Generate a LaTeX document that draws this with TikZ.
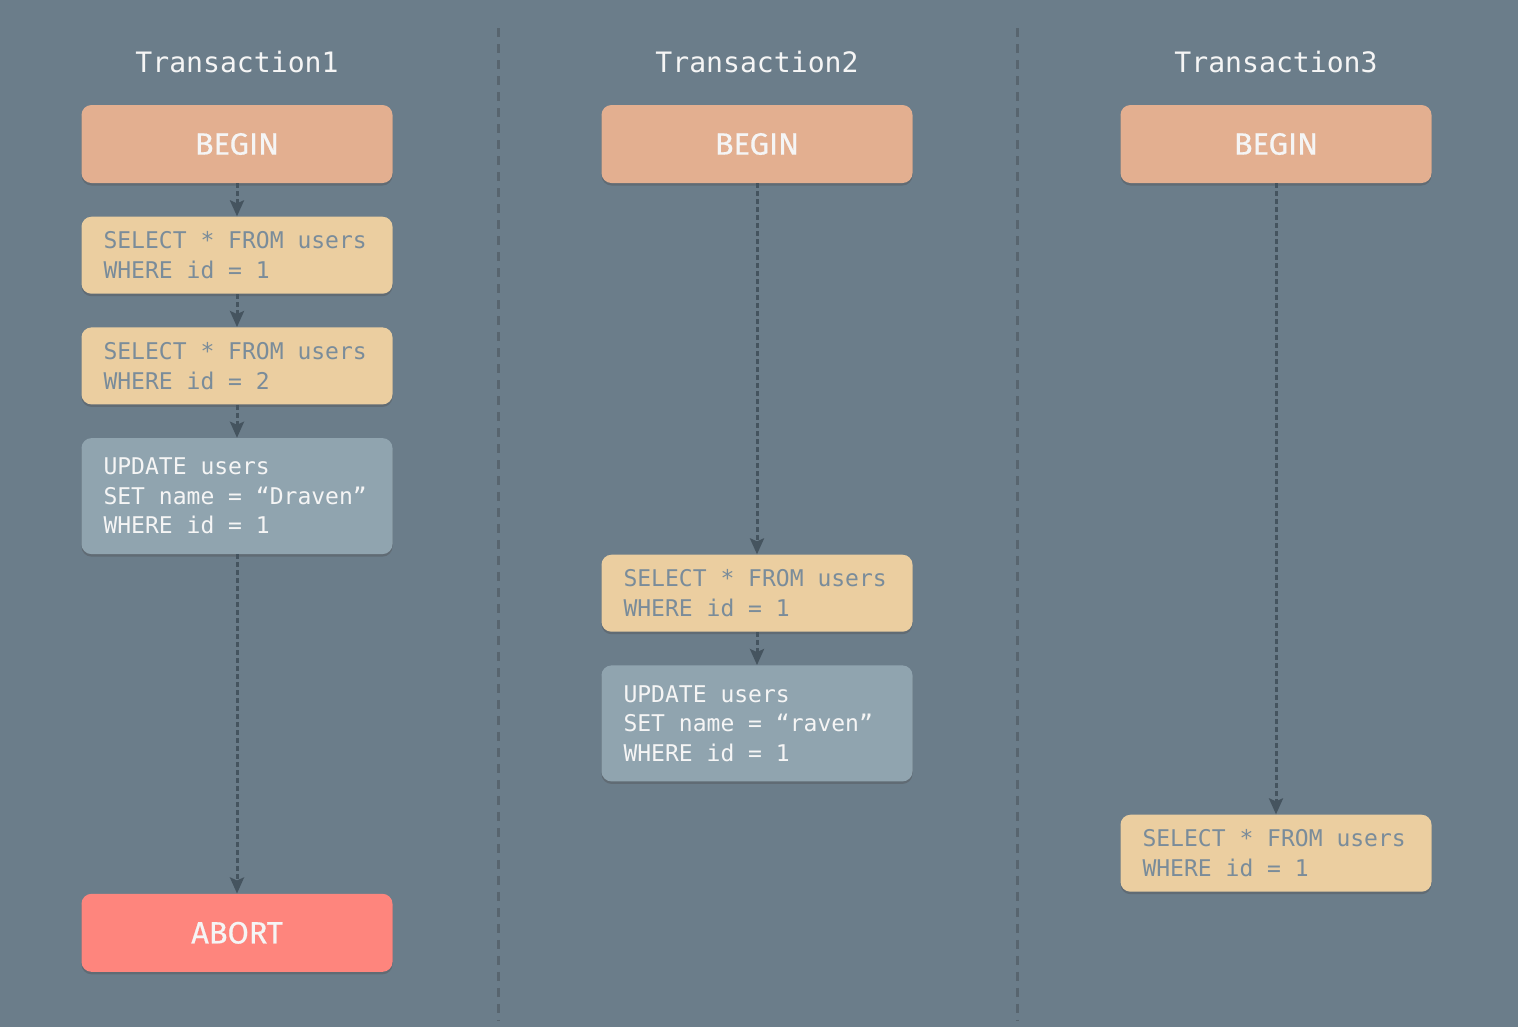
\documentclass[tikz,border=0pt]{standalone}
\usepackage{fontspec}
\setmainfont{Fira Sans}
\newfontfamily\codefont{DejaVu Sans Mono}
\newfontfamily\keyfont[FakeBold=0.6]{Fira Sans}
\usetikzlibrary{arrows.meta, positioning, shadows}
\definecolor{Slate}{HTML}{6B7D8A}
\definecolor{SlateDark}{HTML}{45545F}
\definecolor{Peach}{HTML}{E3AF90}
\definecolor{Sand}{HTML}{EBCEA0}
\definecolor{SandText}{HTML}{7A8C9A}
\definecolor{Steel}{HTML}{90A4AF}
\definecolor{Coral}{HTML}{FE857D}
\definecolor{Snow}{HTML}{F5F5F5}

\begin{document}
\begin{tikzpicture}[
    % Global Styles
    node distance=0.66cm,
    % Box base
    stmt/.style={
        rectangle,
        rounded corners=0.2cm,
        draw=none,
        drop shadow={shadow xshift=0pt, shadow yshift=-0.05cm, opacity=0.35, fill=black!70},
        text width=5.34cm,
        inner xsep=0.44cm,
        inner ysep=0.1cm
    },
    % Styles for different statement types
    beginbox/.style={
        stmt,
        fill=Peach,
        minimum height=1.56cm,
        align=center,
        text=Snow,
        font=\keyfont\fontsize{17.5}{20}\selectfont
    },
    abortbox/.style={
        beginbox,
        fill=Coral
    },
    selectbox/.style={
        stmt,
        fill=Sand,
        minimum height=1.54cm,
        align=flush left,
        text=SandText,
        font=\codefont\fontsize{13.1}{17}\selectfont
    },
    updatebox/.style={
        stmt,
        fill=Steel,
        minimum height=2.32cm,
        align=flush left,
        text=Snow,
        font=\codefont\fontsize{13.1}{16.8}\selectfont
    },
    title/.style={
        text=Snow,
        font=\codefont\fontsize{16}{19}\selectfont
    },
    % Connector line style
    flow/.style={
        draw=SlateDark,
        line width=0.06cm,
        dash pattern=on 0.1cm off 0.06cm,
        -{Stealth[length=0.32cm,width=0.28cm,inset=0.06cm]}
    },
    lane/.style={
        draw=SlateDark!90,
        line width=0.06cm,
        dash pattern=on 0.18cm off 0.14cm
    }
]

    % --- Background ---
    \fill[Slate] (0,0) rectangle (30.36,-20.54);
    \useasboundingbox (0,0) rectangle (30.36,-20.54);

    % --- Lanes ---
    \coordinate (lane1top) at (9.96,-0.56);
    \coordinate (lane1bot) at (9.96,-20.40);
    \coordinate (lane2top) at (20.34,-0.56);
    \coordinate (lane2bot) at (20.34,-20.40);
    \draw[lane] (lane1top) -- (lane1bot);
    \draw[lane] (lane2top) -- (lane2bot);

    % --- Transaction 1 ---
    \node[title] (t1) at (4.74,-1.24) {Transaction1};
    \node[beginbox] (begin1) at (4.74,-2.88) {BEGIN};
    \node[selectbox, below=of begin1] (sel1a) {SELECT * FROM users\\WHERE id = 1};
    \node[selectbox, below=of sel1a] (sel1b) {SELECT * FROM users\\WHERE id = 2};
    \node[updatebox, below=of sel1b] (upd1) {UPDATE users\\SET name = “Draven”\\WHERE id = 1};
    \node[abortbox, below=6.78cm of upd1] (abort1) {ABORT};

    % --- Transaction 2 ---
    \node[title] (t2) at (15.14,-1.24) {Transaction2};
    \node[beginbox] (begin2) at (15.14,-2.88) {BEGIN};
    \node[selectbox, below=7.42cm of begin2] (sel2) {SELECT * FROM users\\WHERE id = 1};
    \node[updatebox, below=of sel2] (upd2) {UPDATE users\\SET name = “raven”\\WHERE id = 1};

    % --- Transaction 3 ---
    \node[title] (t3) at (25.52,-1.24) {Transaction3};
    \node[beginbox] (begin3) at (25.52,-2.88) {BEGIN};
    \node[selectbox, below=12.62cm of begin3] (sel3) {SELECT * FROM users\\WHERE id = 1};

    % --- Edges ---
    \draw[flow] (begin1) -- (sel1a);
    \draw[flow] (sel1a) -- (sel1b);
    \draw[flow] (sel1b) -- (upd1);
    \draw[flow] (upd1) -- (abort1);

    \draw[flow] (begin2) -- (sel2);
    \draw[flow] (sel2) -- (upd2);

    \draw[flow] (begin3) -- (sel3);

\end{tikzpicture}
\end{document}
